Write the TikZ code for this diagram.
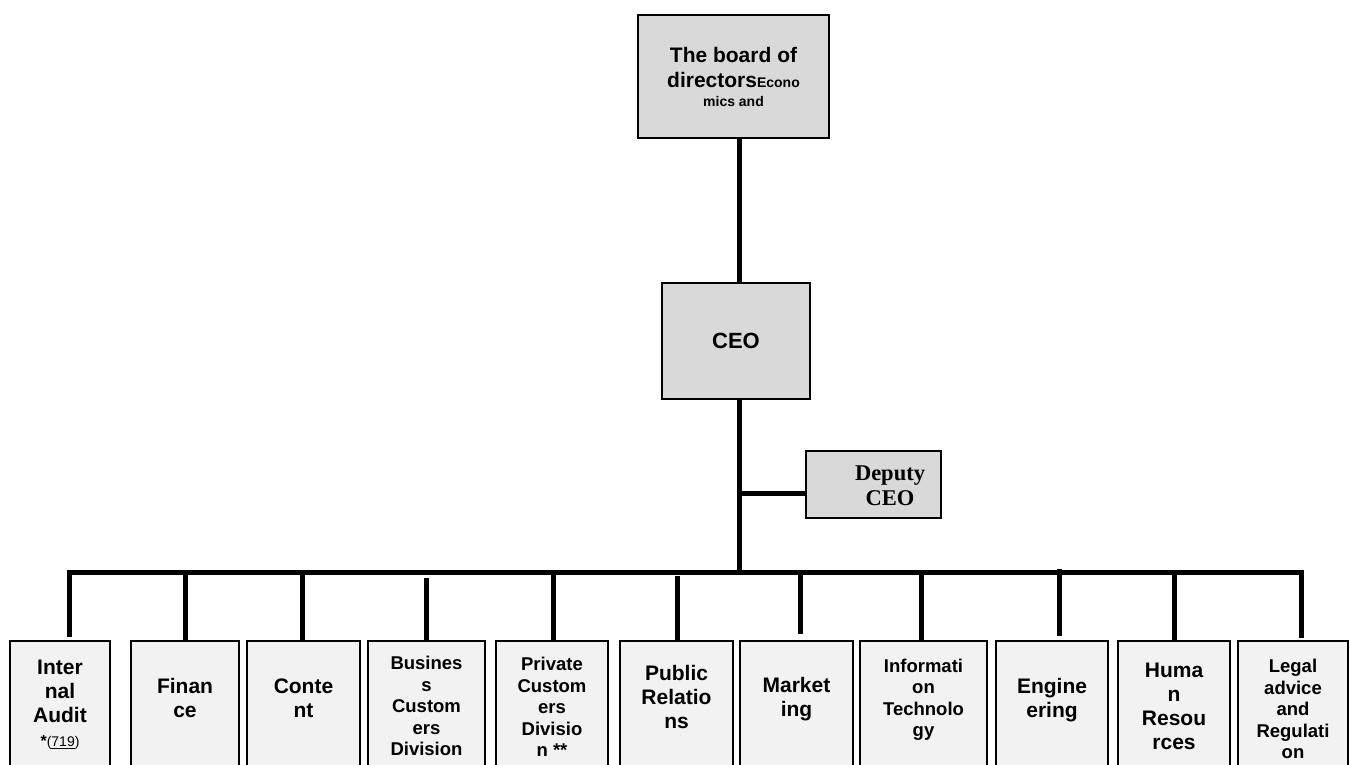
\documentclass[tikz,border=0pt]{standalone}
\usepackage{fontspec}
\setmainfont{Liberation Sans}
\newfontfamily\deputyfont{Liberation Serif}
\usepackage{xcolor}
\usepackage{tikz}
\usetikzlibrary{positioning}

\newcommand{\bigdept}{\fontsize{21}{24}\selectfont\bfseries}
\newcommand{\smalldept}{\fontsize{18.5}{21.5}\selectfont\bfseries}

\begin{document}
\begin{tikzpicture}[x=1pt, y=-1pt,
        topbox/.style={draw, fill=black!15, line width=2pt, align=center, inner sep=0pt},
        deptbox/.style={draw, fill=black!5, line width=1.6pt, minimum height=130pt, inner sep=0pt},
        bigtxt/.style={align=center, font=\bigdept, inner sep=0pt},
        smalltxt/.style={align=center, font=\smalldept, inner sep=0pt},
        link/.style={line width=5pt}]

        \useasboundingbox (0,0) rectangle (1350,765);
        \clip (0,0) rectangle (1350,765);

        % Board, CEO and deputy
        \node[topbox, line width=2.6pt, minimum width=191pt, minimum height=123pt,
              font={\fontsize{21}{25}\selectfont\bfseries}] (board) at (733.5,76.5)
            {The board of\\directors{\fontsize{14}{19}\selectfont Econo}\\[-6pt]{\fontsize{14}{19}\selectfont mics and}};
        \node[topbox, minimum width=148pt, minimum height=116pt,
              font={\fontsize{22}{26}\selectfont\bfseries}] (ceo) at (736,341) {CEO};
        \node[topbox, minimum width=135pt, minimum height=67pt] (deputy) at (873.5,484.5) {};
        \node[font={\deputyfont\fontsize{22.5}{25}\selectfont\bfseries}, align=center, inner sep=0pt]
            (deputy-txt) at (890,486) {Deputy\\CEO};

        % Departments
        \foreach \n/\cx/\w/\ty/\st/\txt in {
            audit/60/100/705/bigtxt/{Inter\\nal\\Audit\\{\fontsize{16}{26}\selectfont *}{\fontsize{14}{26}\selectfont\mdseries(\underline{719})}},
            finance/185/108/698/bigtxt/{Finan\\ce},
            content/303.5/113/698/bigtxt/{Conte\\nt},
            business/426.5/117/706/smalltxt/{Busines\\s\\Custom\\ers\\Division},
            private/552/112/707/smalltxt/{Private\\Custom\\ers\\Divisio\\n **},
            public/676.5/113/697/bigtxt/{Public\\Relatio\\ns},
            marketing/796.5/113/699/bigtxt/{Market\\ing},
            infotech/923.5/127/700/smalltxt/{Informati\\on\\Technolo\\gy},
            engineering/1052/112/700/bigtxt/{Engine\\ering},
            hr/1174/112/706/bigtxt/{Huma\\n\\Resou\\rces},
            legal/1293/110/709/smalltxt/{Legal\\advice\\and\\Regulati\\on}}{
            \node[deptbox, minimum width=\w pt] (\n) at (\cx,706) {};
            \node[\st] (\n-txt) at (\cx,\ty) {\txt};
        }

        % Lines
        \coordinate (hub) at (739,572);
        \draw[link] ([xshift=5.5pt]board.south) -- ([xshift=3pt]ceo.north);
        \draw[link] ([xshift=3pt]ceo.south) -- (hub);
        \coordinate (dep-in) at ([yshift=-8.5pt]deputy.west);
        \draw[link] (hub |- dep-in) -- (dep-in);

        \foreach \n/\x/\ya/\yb in {audit/69/572/637, finance/185/572/641, content/302/572/641,
            business/426/578/641, private/553/572/641, public/677/576/641, marketing/800/572/634,
            infotech/921/572/641, engineering/1059/569/636, hr/1174/572/641, legal/1301/572/638}{
            \coordinate (drop-\n) at (\x,\yb);
            \draw[link] (drop-\n |- 0,\ya) -- (drop-\n);
        }
        \draw[link] (drop-audit) -- (drop-audit |- hub) -- (drop-legal |- hub) -- (drop-legal);

    \end{tikzpicture}
\end{document}
